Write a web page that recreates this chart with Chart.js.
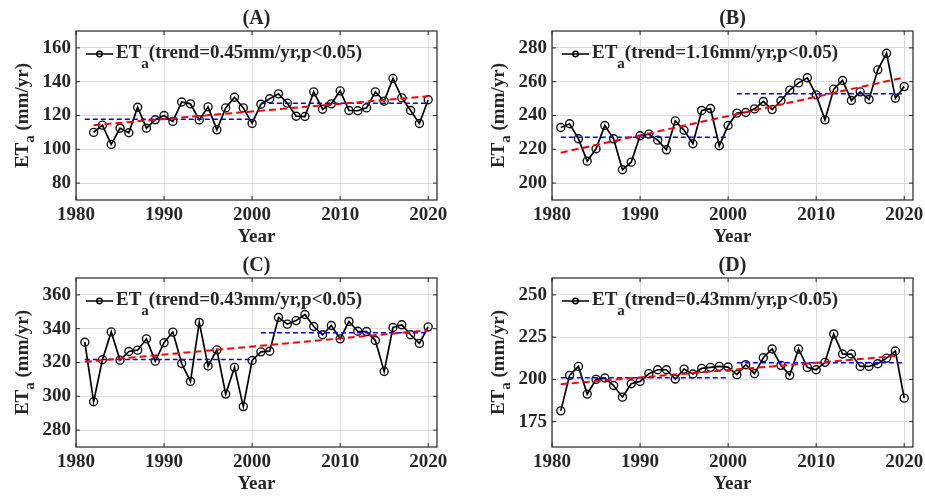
<!DOCTYPE html>
<html>
<head>
<meta charset="utf-8">
<script src="https://cdn.jsdelivr.net/npm/chart.js@4"></script>
<style>
  body { margin: 0; background: #fff; overflow: hidden; }
  #wrap { position: relative; width: 925px; height: 496px; }
  canvas { position: absolute; }
</style>
</head>
<body>
<div id="wrap">
  <canvas id="cA" width="476" height="248" style="left:0;top:0"></canvas>
  <canvas id="cB" width="449" height="248" style="left:476px;top:0"></canvas>
  <canvas id="cC" width="476" height="248" style="left:0;top:248px"></canvas>
  <canvas id="cD" width="449" height="248" style="left:476px;top:248px"></canvas>
</div>
<script>
// years
const years = [1981,1982,1983,1984,1985,1986,1987,1988,1989,1990,
               1991,1992,1993,1994,1995,1996,1997,1998,1999,2000,
               2001,2002,2003,2004,2005,2006,2007,2008,2009,2010,
               2011,2012,2013,2014,2015,2016,2017,2018,2019,2020]
const yearsA = years.slice(1)   // panel A starts in 1982

// annual ETa (mm/yr)
const etaA = [110,114.3,102.9,112.5,109.8,124.9,112.5,117.5,120,116.5,
              128,126.9,117.4,125.1,111.5,124.5,130.8,124.5,115.3,126.7,
              129.9,132.8,127.3,119.6,119.4,134,123.7,126.9,134.6,123,
              122.8,124.5,134,128.5,141.9,130.4,123,115.3,129.3]
const etaB = [232.9,235.1,226.2,213,220.3,234.1,226.2,207.9,212.4,228,
              229,225.4,219.7,236.8,231.3,223.3,243,244.1,222.1,234.1,
              241.4,241.8,243.9,248.3,243.5,248.7,255,259.3,262.3,252.2,
              237.4,255.6,260.7,248.9,254,249.5,267,276.8,250.2,257.1]
const etaC = [332,296.8,321.6,338.1,321.4,326.5,327.3,334,320.8,331.7,
              338,319.4,308.8,343.7,317.9,327.5,301.3,317.1,293.9,321.2,
              326.3,326.7,346.6,342.7,344.8,348.4,341.3,336.4,341.9,334,
              344.3,338.5,338.3,333,314.7,340.7,342.3,336.4,331.3,341.1]
const etaD = [181.4,202.4,207.7,191.3,200,200.8,196.4,189.5,197.4,198.8,
              203.4,205.7,205.7,200.2,206.1,203.2,206.5,207.1,207.7,207.3,
              202.8,208.7,203.4,212.8,218,208.3,202.4,218,207.1,205.7,
              210.1,226.9,215,215,207.7,207.7,209.3,212.6,216.8,188.9]

// linear trend (red), end points
const trendYearsA = [1982, 2020], trendA = [114.3, 131.4]
const trendYearsB = [1981, 2020], trendB = [218, 262.5]
const trendYearsC = [1981, 2020], trendC = [320.4, 339]
const trendYearsD = [1981, 2019], trendD = [197.2, 213.8]

// period means (blue): 1981-2000 and 2001-2020
const periods = [[1981, 2000], [2001, 2020]]
const meanA = [117.8, 127.3]
const meanB = [227.2, 252.8]
const meanC = [321.8, 337.6]
const meanD = [201, 209.9]

// axes
const xTicks = [1980, 1990, 2000, 2010, 2020]
const yTicksA = [80, 100, 120, 140, 160]
const yTicksB = [200, 220, 240, 260, 280]
const yTicksC = [280, 300, 320, 340, 360]
const yTicksD = [175, 200, 225, 250]
const yRangeA = [70, 170], yRangeB = [190, 290], yRangeC = [270, 370], yRangeD = [160, 260]

const slopeA = '0.45', slopeB = '1.16', slopeC = '0.43', slopeD = '0.43'

const FONT = '"Liberation Serif", "Times New Roman", serif'
const TXT = '#262626'

function pts(xs, ys) {
  return xs.map((x, i) => ({x: x, y: ys[i]}))
}

function meanPts(means) {
  let out = []
  periods.forEach((p, i) => {
    out.push({x: p[0], y: means[i]}, {x: p[1], y: means[i]})
    if (i < periods.length - 1) out.push({x: (p[1] + periods[i + 1][0]) / 2, y: null})
  })
  return out
}

// title, axis labels, box, inward ticks and legend
const deco = {
  id: 'deco',
  afterDraw(chart, args, opts) {
    const ctx = chart.ctx
    const a = chart.chartArea
    const xs = chart.scales.x, ys = chart.scales.y
    ctx.save()
    // box
    ctx.strokeStyle = TXT
    ctx.lineWidth = 1.2
    ctx.strokeRect(a.left, a.top, a.right - a.left, a.bottom - a.top)
    // inward ticks
    ctx.lineWidth = 1
    ctx.beginPath()
    xs.ticks.forEach(t => {
      const px = xs.getPixelForValue(t.value)
      ctx.moveTo(px, a.bottom); ctx.lineTo(px, a.bottom - 4)
      ctx.moveTo(px, a.top); ctx.lineTo(px, a.top + 4)
    })
    ys.ticks.forEach(t => {
      const py = ys.getPixelForValue(t.value)
      ctx.moveTo(a.left, py); ctx.lineTo(a.left + 4, py)
      ctx.moveTo(a.right, py); ctx.lineTo(a.right - 4, py)
    })
    ctx.stroke()

    ctx.fillStyle = TXT
    ctx.textBaseline = 'alphabetic'
    // title
    ctx.font = 'bold 20px ' + FONT
    ctx.textAlign = 'center'
    ctx.fillText(opts.title, (a.left + a.right) / 2, a.top - 7)
    // x label
    ctx.font = 'bold 19px ' + FONT
    ctx.fillText('Year', (a.left + a.right) / 2, a.bottom + 42)

    // y label with subscript
    ctx.save()
    ctx.translate(a.left - 48, (a.top + a.bottom) / 2)
    ctx.rotate(-Math.PI / 2)
    ctx.textAlign = 'left'
    ctx.font = 'bold 19px ' + FONT
    const w1 = ctx.measureText('ET').width
    const w3 = ctx.measureText(' (mm/yr)').width
    ctx.font = 'bold 15px ' + FONT
    const w2 = ctx.measureText('a').width
    let x = -(w1 + w2 + w3) / 2
    ctx.font = 'bold 19px ' + FONT
    ctx.fillText('ET', x, 0)
    x += w1
    ctx.font = 'bold 15px ' + FONT
    ctx.fillText('a', x, 6)
    x += w2
    ctx.font = 'bold 19px ' + FONT
    ctx.fillText(' (mm/yr)', x, 0)
    ctx.restore()

    // legend
    const ly = a.top + 23
    ctx.strokeStyle = '#000'
    ctx.lineWidth = 1.5
    ctx.beginPath()
    ctx.moveTo(a.left + 10, ly); ctx.lineTo(a.left + 37, ly)
    ctx.stroke()
    ctx.beginPath()
    ctx.arc(a.left + 23.5, ly, 2.7, 0, Math.PI * 2)
    ctx.stroke()
    ctx.textAlign = 'left'
    let lx = a.left + 40
    const lb = a.top + 27
    ctx.font = 'bold 19px ' + FONT
    ctx.fillText('ET', lx, lb)
    lx += ctx.measureText('ET').width
    ctx.font = 'bold 15px ' + FONT
    ctx.fillText('a', lx, lb + 10)
    lx += ctx.measureText('a').width
    ctx.font = 'bold 19px ' + FONT
    ctx.fillText('(trend=' + opts.slope + 'mm/yr,p<0.05)', lx, lb)
    ctx.restore()
  }
}

function makePanel(id, title, xs, vals, tx, tv, means, yRange, yTicks, slope, rightPad, topPad, xH) {
  const tickFont = {family: FONT, size: 19, weight: 'bold'}
  new Chart(document.getElementById(id), {
    type: 'line',
    data: {
      datasets: [
        {
          data: pts(tx, tv),
          borderColor: '#ff0000', borderWidth: 2, borderDash: [7, 4],
          pointRadius: 0, order: 0
        },
        {
          data: meanPts(means),
          borderColor: '#0000ff', borderWidth: 1.5, borderDash: [5, 3],
          pointRadius: 0, spanGaps: false, order: 0
        },
        {
          data: pts(xs, vals),
          borderColor: '#000', borderWidth: 1.7,
          pointRadius: 4, pointBorderWidth: 1.4,
          pointBorderColor: '#111', pointBackgroundColor: 'rgba(255,255,255,0)',
          order: 1
        }
      ]
    },
    options: {
      responsive: false,
      animation: false,
      layout: {padding: {left: 0, right: rightPad, top: topPad, bottom: 0}},
      plugins: {
        legend: {display: false},
        tooltip: {enabled: false},
        deco: {title: title, slope: slope}
      },
      scales: {
        x: {
          type: 'linear', min: 1980, max: 2021,
          afterBuildTicks: s => { s.ticks = xTicks.map(v => ({value: v})) },
          afterFit: s => { s.height = xH; s.paddingLeft = 0; s.paddingRight = 0 },
          grid: {color: '#dcdcdc', drawTicks: false},
          border: {display: false},
          ticks: {padding: 4, font: tickFont, color: TXT, maxRotation: 0, callback: v => String(v)}
        },
        y: {
          min: yRange[0], max: yRange[1],
          afterBuildTicks: s => { s.ticks = yTicks.map(v => ({value: v})) },
          afterFit: s => { s.width = 76; s.paddingTop = 0; s.paddingBottom = 0 },
          grid: {color: '#dcdcdc', drawTicks: false},
          border: {display: false},
          ticks: {padding: 5, font: tickFont, color: TXT, callback: v => String(v)}
        }
      }
    },
    plugins: [deco]
  })
}

makePanel('cA', '(A)', yearsA, etaA, trendYearsA, trendA, meanA, yRangeA, yTicksA, slopeA, 39, 31, 48)
makePanel('cB', '(B)', years, etaB, trendYearsB, trendB, meanB, yRangeB, yTicksB, slopeB, 12, 31, 48)
makePanel('cC', '(C)', years, etaC, trendYearsC, trendC, meanC, yRangeC, yTicksC, slopeC, 39, 30, 49)
makePanel('cD', '(D)', years, etaD, trendYearsD, trendD, meanD, yRangeD, yTicksD, slopeD, 12, 30, 49)
</script>
</body>
</html>
